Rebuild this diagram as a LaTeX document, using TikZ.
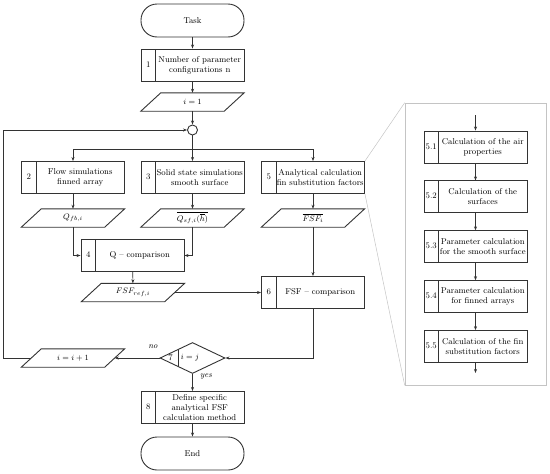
\documentclass[tikz,border=0pt]{standalone}
\usepackage{amsmath}
\usepackage{tikz}
\usetikzlibrary{positioning,arrows.meta,shapes.geometric,calc}
\definecolor{cLine}{HTML}{333333}
\definecolor{cPan}{HTML}{C4C4C4}
\newcommand{\stepcell}[2]{\makebox[14.5pt]{#1}\parbox{88.5pt}{\centering #2}}
\tikzset{
  >={Stealth[length=4pt,width=3pt]},
  nd/.style={draw=cLine,line width=0.9pt,align=center},
  term/.style={nd,rounded corners=16pt,minimum width=103pt,minimum height=33pt},
  proc/.style={nd,minimum width=103pt,minimum height=32pt,inner xsep=0pt,inner ysep=1pt,
    path picture={\draw[cLine,line width=0.9pt]
      ([xshift=14.5pt]path picture bounding box.north west) --
      ([xshift=14.5pt]path picture bounding box.south west);}},
  io/.style={align=center,minimum width=83pt,minimum height=18pt,inner sep=0pt,
    append after command={\pgfextra{\pgfinterruptpath
      \draw[cLine,line width=0.9pt,line join=miter]
        ([xshift=-10pt]\tikzlastnode.south west) -- ([xshift=10pt]\tikzlastnode.north west) --
        ([xshift=10pt]\tikzlastnode.north east) -- ([xshift=-10pt]\tikzlastnode.south east) -- cycle;
      \endpgfinterruptpath}}},
  cond/.style={nd,diamond,minimum width=65pt,minimum height=31pt,inner sep=0pt,
    path picture={\draw[cLine,line width=0.9pt]
      ([xshift=-14.5pt,yshift=12pt]path picture bounding box.center) --
      ([xshift=-14.5pt,yshift=-12pt]path picture bounding box.center);}},
  jn/.style={nd,circle,minimum size=10pt,inner sep=0pt},
  flow/.style={->,line width=0.6pt,cLine},
  link/.style={line width=0.6pt,cLine},
  zoomln/.style={line width=0.5pt,cPan},
}

\begin{document}
\begin{tikzpicture}[x=1pt,y=-1pt,font=\fontsize{8.5}{10}\selectfont]
  \useasboundingbox (0,0) rectangle (550,474);
  % --- main column ---
  \node[term] (task) at (192.5,20.5) {Task};
  \node[proc] (b1) at (192.5,65) {\stepcell{1}{Number of parameter\\configurations n}};
  \node[io] (init) at (192.5,102) {$i = 1$};
  \node[jn] (junc) at (192.5,130) {};
  \coordinate (split) at (192.5,149);
  \coordinate (loopx) at (3,358);
  % --- three branches ---
  \node[proc] (b2) at (73,177.5) {\stepcell{2}{Flow simulations\\finned array}};
  \node[proc] (b3) at (192.5,177.5) {\stepcell{3}{Solid state simulations\\smooth surface}};
  \node[proc] (b5) at (313,177.5) {\stepcell{5}{Analytical calculation\\fin substitution factors}};
  \node[io] (qfb) at (73,218) {$Q_{fb,i}$};
  \node[io] (qsf) at (192.5,218) {$\overline{Q_{sf,i}(\overline{h})}$};
  \node[io] (fsfi) at (313,218) {$\overline{FSF_i}$};
  % --- comparisons ---
  \node[proc] (b4) at (132.5,255.5) {\stepcell{4}{Q -- comparison}};
  \node[io] (fref) at (133,292.5) {$FSF_{ref,i}$};
  \node[proc] (b6) at (313,292.5) {\stepcell{6}{FSF -- comparison}};
  % --- decision + end ---
  \node[cond] (dec) at (192.5,358) {};
  \node (dnum) at (170.5,358) {7};
  \node (dtxt) at (190,358) {$i = j$};
  \node[font=\itshape\fontsize{8.5}{10}\selectfont] (lno) at (153,347) {no};
  \node[font=\itshape\fontsize{8.5}{10}\selectfont] (lyes) at (206,376) {yes};
  \node[io] (inc) at (73,358) {$i = i + 1$};
  \node[proc] (b8) at (192.5,407.5) {\stepcell{8}{Define specific\\analytical FSF\\calculation method}};
  \node[term] (done) at (192.5,453.5) {End};
  % --- detail panel for step 5 ---
  \node[draw=cPan,line width=0.6pt,minimum width=141pt,minimum height=282pt] (panel) at (475.5,244) {};
  \draw[zoomln] (b5.north east) -- (panel.north west);
  \draw[zoomln] (b5.south east) -- (panel.south west);
  \coordinate (pin) at (475.5,115);
  \node[proc] (p1) at (475.5,147) {\stepcell{5.1}{Calculation of the air\\properties}};
  \node[proc,below=17pt of p1] (p2) {\stepcell{5.2}{Calculation of the\\surfaces}};
  \node[proc,below=17pt of p2] (p3) {\stepcell{5.3}{Parameter calculation\\for the smooth surface}};
  \node[proc,below=17pt of p3] (p4) {\stepcell{5.4}{Parameter calculation\\for finned arrays}};
  \node[proc,below=17pt of p4] (p5) {\stepcell{5.5}{Calculation of the fin\\substitution factors}};
  \coordinate (pout) at (475.5,373);
  % --- arrows: main column ---
  \draw[flow] (task) -- (b1);
  \draw[flow] (b1) -- (init);
  \draw[flow] (init) -- (junc);
  \draw[link] (junc) -- (split);
  \draw[flow] (split) -| (b2.north);
  \draw[flow] (split) -- (b3.north);
  \draw[flow] (split) -| (b5.north);
  \draw[flow] (b2) -- (qfb);
  \draw[flow] (b3) -- (qsf);
  \draw[flow] (b5) -- (fsfi);
  \draw[flow] (qfb.south) |- (b4.west);
  \draw[flow] (qsf.south) |- (b4.east);
  \draw[flow] (b4) -- (fref);
  \draw[flow] (fref.east) -- (fref.east -| b6.west);
  \draw[flow] (fsfi) -- (b6);
  \draw[flow] (b6.south) |- (dec.east);
  \draw[flow] (dec.west) -- (inc.east);
  \draw[flow] (inc.west) -- (loopx) |- (junc.west);
  \draw[flow] (dec.south) -- (b8.north);
  \draw[flow] (b8) -- (done);
  % --- arrows: panel ---
  \draw[flow] (pin) -- (p1);
  \draw[flow] (p1) -- (p2);
  \draw[flow] (p2) -- (p3);
  \draw[flow] (p3) -- (p4);
  \draw[flow] (p4) -- (p5);
  \draw[flow] (p5) -- (pout);
\end{tikzpicture}
\end{document}
